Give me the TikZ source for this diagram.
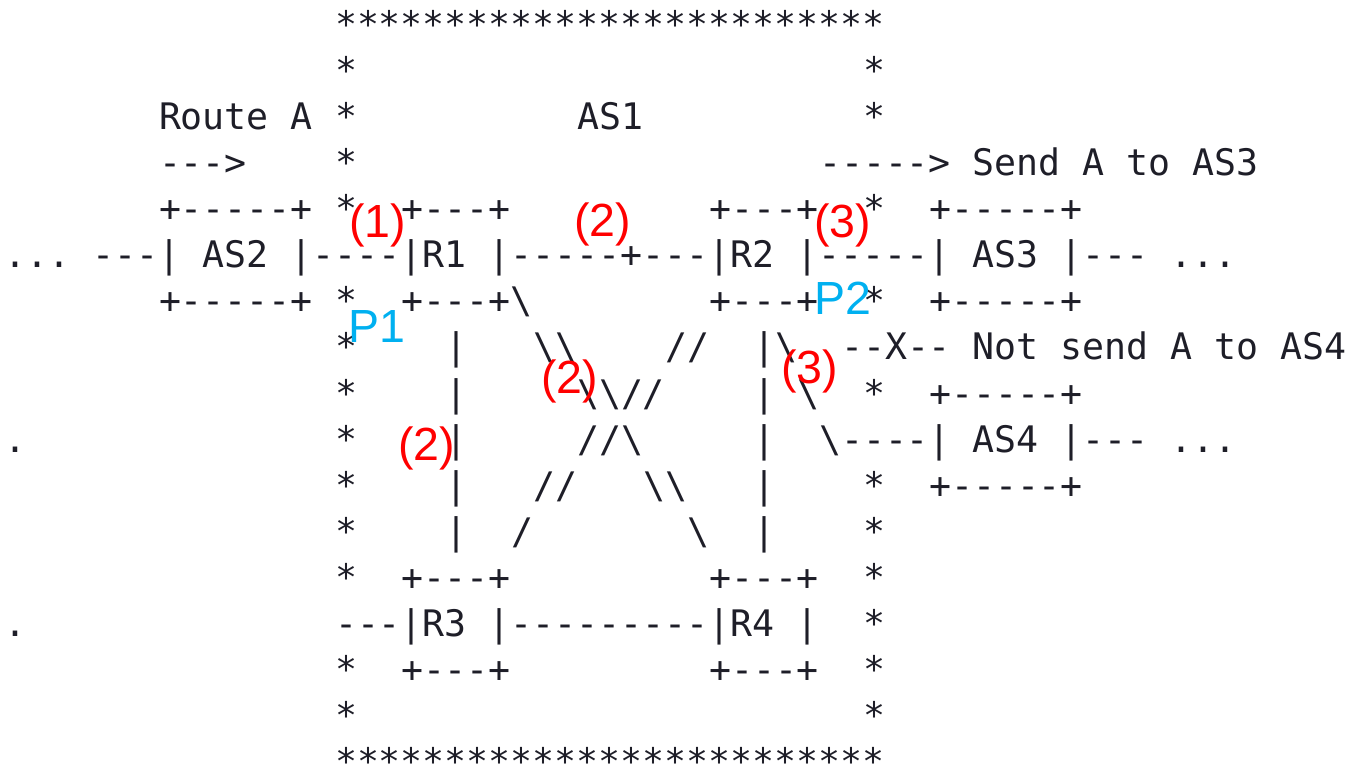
\documentclass[tikz,border=0pt]{standalone}
\usepackage{fontspec}
\setmonofont{DejaVu Sans Mono}
\newfontfamily\labelfont{Liberation Sans}
\definecolor{ink}{RGB}{30,30,40}
\definecolor{hopred}{RGB}{255,0,0}
\definecolor{peerblue}{RGB}{0,176,240}
\tikzset{
  asc/.style={anchor=base west, inner sep=0pt, outer sep=0pt, text=ink,
    font=\ttfamily\fontsize{36.54pt}{44pt}\selectfont},
  note/.style={anchor=base west, inner sep=0pt, outer sep=0pt,
    font=\labelfont\fontsize{46.5pt}{52pt}\selectfont},
  hop/.style={note, text=hopred},
  peer/.style={note, text=peerblue},
}
\newcommand\bs{\textbackslash}
\begin{document}
\begin{tikzpicture}[x=1pt,y=-1pt]
\useasboundingbox (0,0) rectangle (1349,767);
% character grid: one unit = one column / one text row
\begin{scope}[x=22pt, y=-46.1pt, shift={(5pt,-37.2pt)}]
  % row 0
  \node[asc] (r0) at (15,0) {*************************};
  % row 1
  \node[asc] (r1a) at (15,1) {*};
  \node[asc] (r1b) at (39,1) {*};
  % row 2
  \node[asc] (r2a) at (7,2) {Route A};
  \node[asc] (r2b) at (15,2) {*};
  \node[asc] (r2c) at (26,2) {AS1};
  \node[asc] (r2d) at (39,2) {*};
  % row 3
  \node[asc] (r3a) at (7,3) {--->};
  \node[asc] (r3b) at (15,3) {*};
  \node[asc] (r3c) at (37,3) {-----> Send A to AS3};
  % row 4
  \node[asc] (r4a) at (7,4) {+-----+};
  \node[asc] (r4b) at (15,4) {*};
  \node[asc] (r4c) at (18,4) {+---+};
  \node[asc] (r4d) at (32,4) {+---+};
  \node[asc] (r4e) at (39,4) {*};
  \node[asc] (r4f) at (42,4) {+-----+};
  % row 5
  \node[asc] (r5) at (0,5) {... ---| AS2 |----|R1 |-----+---|R2 |-----| AS3 |--- ...};
  % row 6
  \node[asc] (r6a) at (7,6) {+-----+};
  \node[asc] (r6b) at (15,6) {*};
  \node[asc] (r6c) at (18,6) {+---+\bs};
  \node[asc] (r6d) at (32,6) {+---+};
  \node[asc] (r6e) at (39,6) {*};
  \node[asc] (r6f) at (42,6) {+-----+};
  % row 7
  \node[asc] (r7a) at (15,7) {*};
  \node[asc] (r7b) at (20,7) {|};
  \node[asc] (r7c) at (24,7) {\bs\bs};
  \node[asc] (r7d) at (30,7) {//};
  \node[asc] (r7e) at (34,7) {|\bs};
  \node[asc] (r7f) at (38,7) {--X-- Not send A to AS4};
  % row 8
  \node[asc] (r8a) at (15,8) {*};
  \node[asc] (r8b) at (20,8) {|};
  \node[asc] (r8c) at (26,8) {\bs\bs//};
  \node[asc] (r8d) at (34,8) {|};
  \node[asc] (r8e) at (36,8) {\bs};
  \node[asc] (r8f) at (39,8) {*};
  \node[asc] (r8g) at (42,8) {+-----+};
  % row 9
  \node[asc] (r9a) at (0,9) {.};
  \node[asc] (r9b) at (15,9) {*};
  \node[asc] (r9c) at (20,9) {|};
  \node[asc] (r9d) at (26,9) {//\bs};
  \node[asc] (r9e) at (34,9) {|};
  \node[asc] (r9f) at (37,9) {\bs----| AS4 |--- ...};
  % row 10
  \node[asc] (r10a) at (15,10) {*};
  \node[asc] (r10b) at (20,10) {|};
  \node[asc] (r10c) at (24,10) {//};
  \node[asc] (r10d) at (29,10) {\bs\bs};
  \node[asc] (r10e) at (34,10) {|};
  \node[asc] (r10f) at (39,10) {*};
  \node[asc] (r10g) at (42,10) {+-----+};
  % row 11
  \node[asc] (r11a) at (15,11) {*};
  \node[asc] (r11b) at (20,11) {|};
  \node[asc] (r11c) at (23,11) {/};
  \node[asc] (r11d) at (31,11) {\bs};
  \node[asc] (r11e) at (34,11) {|};
  \node[asc] (r11f) at (39,11) {*};
  % row 12
  \node[asc] (r12a) at (15,12) {*};
  \node[asc] (r12b) at (18,12) {+---+};
  \node[asc] (r12c) at (32,12) {+---+};
  \node[asc] (r12d) at (39,12) {*};
  % row 13
  \node[asc] (r13a) at (0,13) {.};
  \node[asc] (r13b) at (15,13) {---|R3 |---------|R4 |};
  \node[asc] (r13c) at (39,13) {*};
  % row 14
  \node[asc] (r14a) at (15,14) {*};
  \node[asc] (r14b) at (18,14) {+---+};
  \node[asc] (r14c) at (32,14) {+---+};
  \node[asc] (r14d) at (39,14) {*};
  % row 15
  \node[asc] (r15a) at (15,15) {*};
  \node[asc] (r15b) at (39,15) {*};
  % row 16
  \node[asc] (r16) at (15,16) {*************************};
\end{scope}
% hop numbers and peering points
\node[hop] (h1) at (349,238) {(1)};
\node[hop] (h2a) at (574,237) {(2)};
\node[hop] (h3a) at (814,238) {(3)};
\node[hop] (h2b) at (541,393) {(2)};
\node[hop] (h2c) at (398,460) {(2)};
\node[hop] (h3b) at (781,383) {(3)};
\node[peer] (p1) at (348,342) {P1};
\node[peer] (p2) at (814,315) {P2};
\end{tikzpicture}
\end{document}
